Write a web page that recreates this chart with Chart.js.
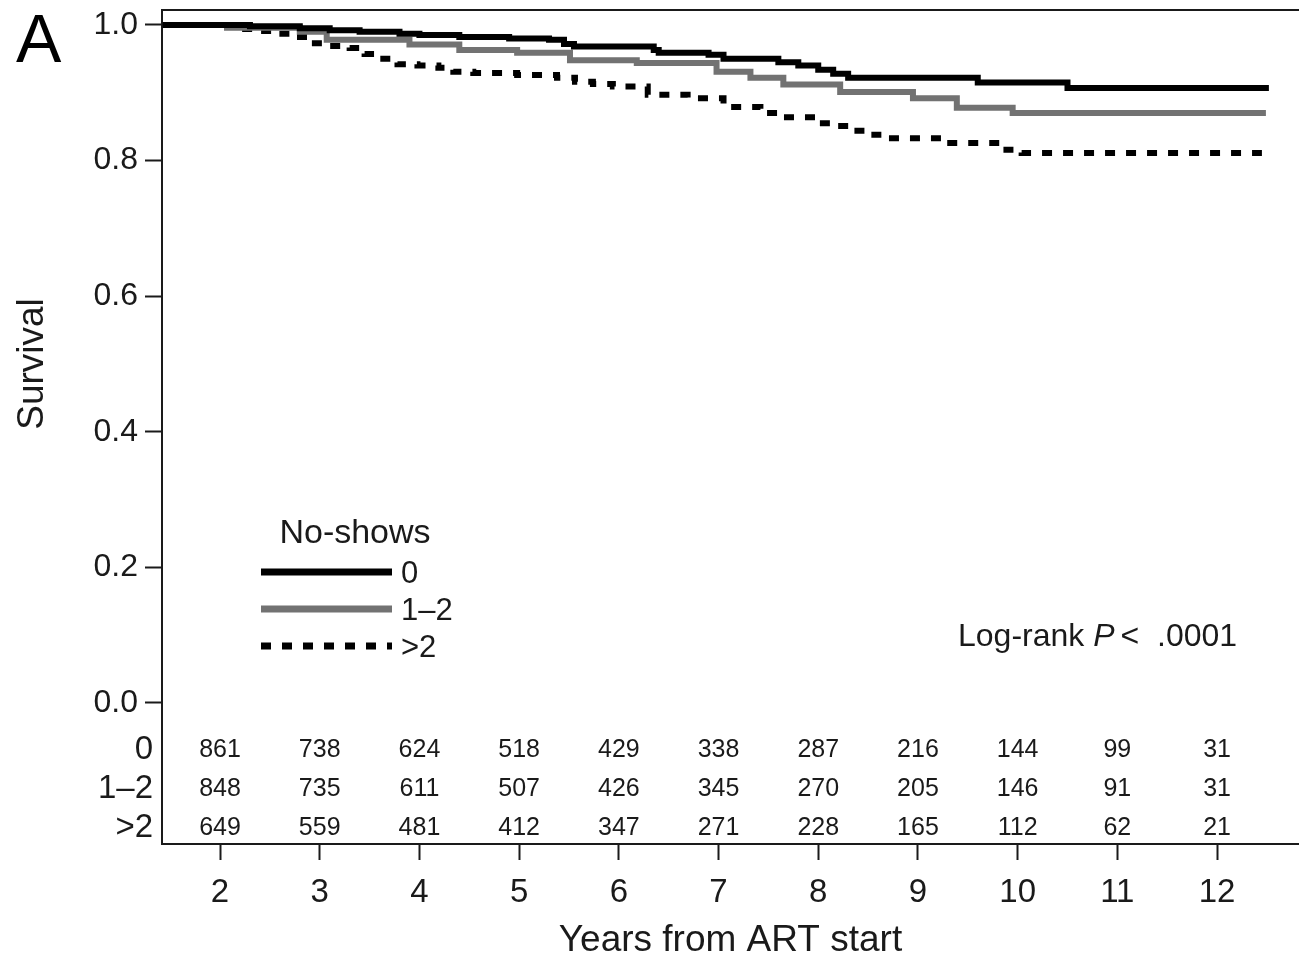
<!DOCTYPE html>
<html>
<head>
<meta charset="utf-8">
<script src="https://cdn.jsdelivr.net/npm/chart.js@4.4.1/dist/chart.umd.min.js"></script>
<style>
  body { margin: 0; background: #fff; }
  #wrap { width: 1299px; height: 959px; position: relative; }
</style>
</head>
<body>
<div id="wrap"><canvas id="km"></canvas></div>
<script>
// Curvas de supervivencia (Kaplan-Meier)
const groups = ['0', '1–2', '>2'];

const time0 = [1.42, 2.3, 2.8, 3.1, 3.4, 3.8, 4.0, 4.4, 4.9, 5.3, 5.45, 5.55, 6.35, 6.4, 6.9, 7.05, 7.6, 7.8, 8.0, 8.15, 8.3, 9.6, 10.5, 12.52];
const surv0 = [1.000, 0.998, 0.995, 0.992, 0.990, 0.987, 0.985, 0.982, 0.980, 0.978, 0.972, 0.968, 0.963, 0.959, 0.956, 0.950, 0.945, 0.940, 0.934, 0.928, 0.922, 0.915, 0.907, 0.907];

const time12 = [1.42, 2.07, 2.8, 3.07, 3.9, 4.4, 4.98, 5.51, 6.18, 6.98, 7.32, 7.65, 8.22, 8.95, 9.39, 9.95, 12.49];
const surv12 = [1.000, 0.996, 0.990, 0.978, 0.971, 0.963, 0.959, 0.948, 0.944, 0.931, 0.922, 0.912, 0.901, 0.892, 0.878, 0.870, 0.870];

const time2 = [1.42, 2.17, 2.37, 2.57, 2.75, 2.9, 3.1, 3.3, 3.45, 3.6, 3.78, 3.98, 4.19, 4.34, 4.54, 4.98, 5.38, 5.56, 5.74, 5.94, 6.29, 6.69, 7.05, 7.42, 7.59, 7.97, 8.14, 8.32, 8.49, 8.69, 9.27, 9.85, 10.04, 12.45];
const surv2 = [1.000, 0.994, 0.991, 0.987, 0.982, 0.973, 0.969, 0.966, 0.957, 0.950, 0.942, 0.940, 0.937, 0.931, 0.929, 0.926, 0.922, 0.916, 0.913, 0.909, 0.897, 0.892, 0.879, 0.870, 0.864, 0.855, 0.851, 0.844, 0.838, 0.833, 0.826, 0.816, 0.811, 0.811];

// Numero en riesgo
const riskYears = [2, 3, 4, 5, 6, 7, 8, 9, 10, 11, 12];
const risk0 = [861, 738, 624, 518, 429, 338, 287, 216, 144, 99, 31];
const risk12 = [848, 735, 611, 507, 426, 345, 270, 205, 146, 91, 31];
const risk2 = [649, 559, 481, 412, 347, 271, 228, 165, 112, 62, 21];

// Ejes
const xTicks = [2, 3, 4, 5, 6, 7, 8, 9, 10, 11, 12];
const yTicks = [0, 0.2, 0.4, 0.6, 0.8, 1.0];

const FONT = '"Liberation Sans", Arial, sans-serif';
const INK = '#1a1a1a';

function toPoints(xs, ys) {
  return xs.map((x, i) => ({ x: x, y: ys[i] }));
}

// Marco superior, etiqueta "A", titulo Y, leyenda, tabla de riesgo y log-rank
const extras = {
  id: 'extras',
  afterDraw(chart) {
    const ctx = chart.ctx;
    const area = chart.chartArea;
    const xs = chart.scales.x;
    ctx.save();

    // linea superior del marco
    ctx.strokeStyle = INK;
    ctx.lineWidth = 2;
    ctx.beginPath();
    ctx.moveTo(area.left, area.top);
    ctx.lineTo(area.right, area.top);
    ctx.stroke();

    ctx.fillStyle = '#000';
    ctx.font = '68px ' + FONT;
    ctx.textAlign = 'left';
    ctx.textBaseline = 'alphabetic';
    ctx.fillText('A', 16, 62);

    // titulo del eje Y
    ctx.save();
    ctx.translate(33, 364);
    ctx.rotate(-Math.PI / 2);
    ctx.font = '37px ' + FONT;
    ctx.fillStyle = INK;
    ctx.textAlign = 'center';
    ctx.textBaseline = 'middle';
    ctx.fillText('Survival', 0, 0);
    ctx.restore();

    // leyenda
    ctx.fillStyle = INK;
    ctx.font = '34px ' + FONT;
    ctx.textAlign = 'center';
    ctx.textBaseline = 'middle';
    ctx.fillText('No-shows', 355, 534);
    const legY = [572, 609, 646];
    ctx.font = '31px ' + FONT;
    chart.data.datasets.forEach((ds, i) => {
      ctx.strokeStyle = ds.borderColor;
      ctx.lineWidth = 7;
      ctx.lineCap = 'butt';
      ctx.setLineDash(ds.borderDash || []);
      ctx.beginPath();
      ctx.moveTo(261, legY[i]);
      ctx.lineTo(392, legY[i]);
      ctx.stroke();
      ctx.setLineDash([]);
      ctx.textAlign = 'left';
      ctx.fillText(groups[i], 401, legY[i] + 2);
    });

    // numero en riesgo
    const rows = [risk0, risk12, risk2];
    const rowY = [750, 789, 828];
    rows.forEach((row, r) => {
      ctx.font = '33px ' + FONT;
      ctx.textAlign = 'right';
      ctx.fillText(groups[r], 153, rowY[r]);
      ctx.font = '25px ' + FONT;
      ctx.textAlign = 'center';
      row.forEach((n, i) => {
        ctx.fillText(String(n), xs.getPixelForValue(riskYears[i]), rowY[r]);
      });
    });

    // log-rank
    ctx.font = '32px ' + FONT;
    ctx.textAlign = 'left';
    const y = 637;
    let x = 958;
    ctx.fillText('Log-rank ', x, y);
    x += ctx.measureText('Log-rank ').width;
    ctx.font = 'italic 32px ' + FONT;
    ctx.fillText('P', x, y);
    x += ctx.measureText('P').width + 6;
    ctx.font = '32px ' + FONT;
    ctx.fillText('<  .0001', x, y);

    ctx.restore();
  }
};

new Chart(document.getElementById('km'), {
  type: 'line',
  data: {
    datasets: [
      {
        label: groups[0],
        data: toPoints(time0, surv0),
        borderColor: '#000000',
        borderWidth: 6,
        stepped: true,
        pointRadius: 0,
        fill: false
      },
      {
        label: groups[1],
        data: toPoints(time12, surv12),
        borderColor: '#727272',
        borderWidth: 6,
        stepped: true,
        pointRadius: 0,
        fill: false
      },
      {
        label: groups[2],
        data: toPoints(time2, surv2),
        borderColor: '#000000',
        borderWidth: 6,
        borderDash: [10, 11],
        stepped: true,
        pointRadius: 0,
        fill: false
      }
    ]
  },
  options: {
    responsive: true,
    maintainAspectRatio: false,
    animation: false,
    layout: { padding: { top: 10, left: 0, right: 0, bottom: 0 } },
    plugins: {
      legend: { display: false },
      tooltip: { enabled: false }
    },
    scales: {
      x: {
        type: 'linear',
        min: 1.418,
        max: 12.822,
        afterBuildTicks: (scale) => { scale.ticks = xTicks.map(v => ({ value: v })); },
        afterFit: (scale) => { scale.height = 115; scale.paddingLeft = 0; scale.paddingRight = 0; },
        border: { display: true, color: INK, width: 2 },
        grid: { display: true, drawOnChartArea: false, drawTicks: true, tickLength: 16, tickColor: INK, tickWidth: 2 },
        ticks: { color: INK, font: { family: FONT, size: 33 }, padding: 13, maxRotation: 0, autoSkip: false, callback: (v) => String(v) },
        title: { display: true, text: 'Years from ART start', color: INK, font: { family: FONT, size: 37, lineHeight: 1.0 }, padding: { top: 0, bottom: 0 } }
      },
      y: {
        type: 'linear',
        min: -0.208,
        max: 1.022,
        afterBuildTicks: (scale) => { scale.ticks = yTicks.map(v => ({ value: v })); },
        afterFit: (scale) => { scale.width = 162; scale.paddingTop = 0; scale.paddingBottom = 0; },
        border: { display: true, color: INK, width: 2 },
        grid: { display: true, drawOnChartArea: false, drawTicks: true, tickLength: 17, tickColor: INK, tickWidth: 2 },
        ticks: { color: INK, font: { family: FONT, size: 32 }, padding: 7, callback: (v) => Number(v).toFixed(1) }
      }
    }
  },
  plugins: [extras]
});
</script>
</body>
</html>
